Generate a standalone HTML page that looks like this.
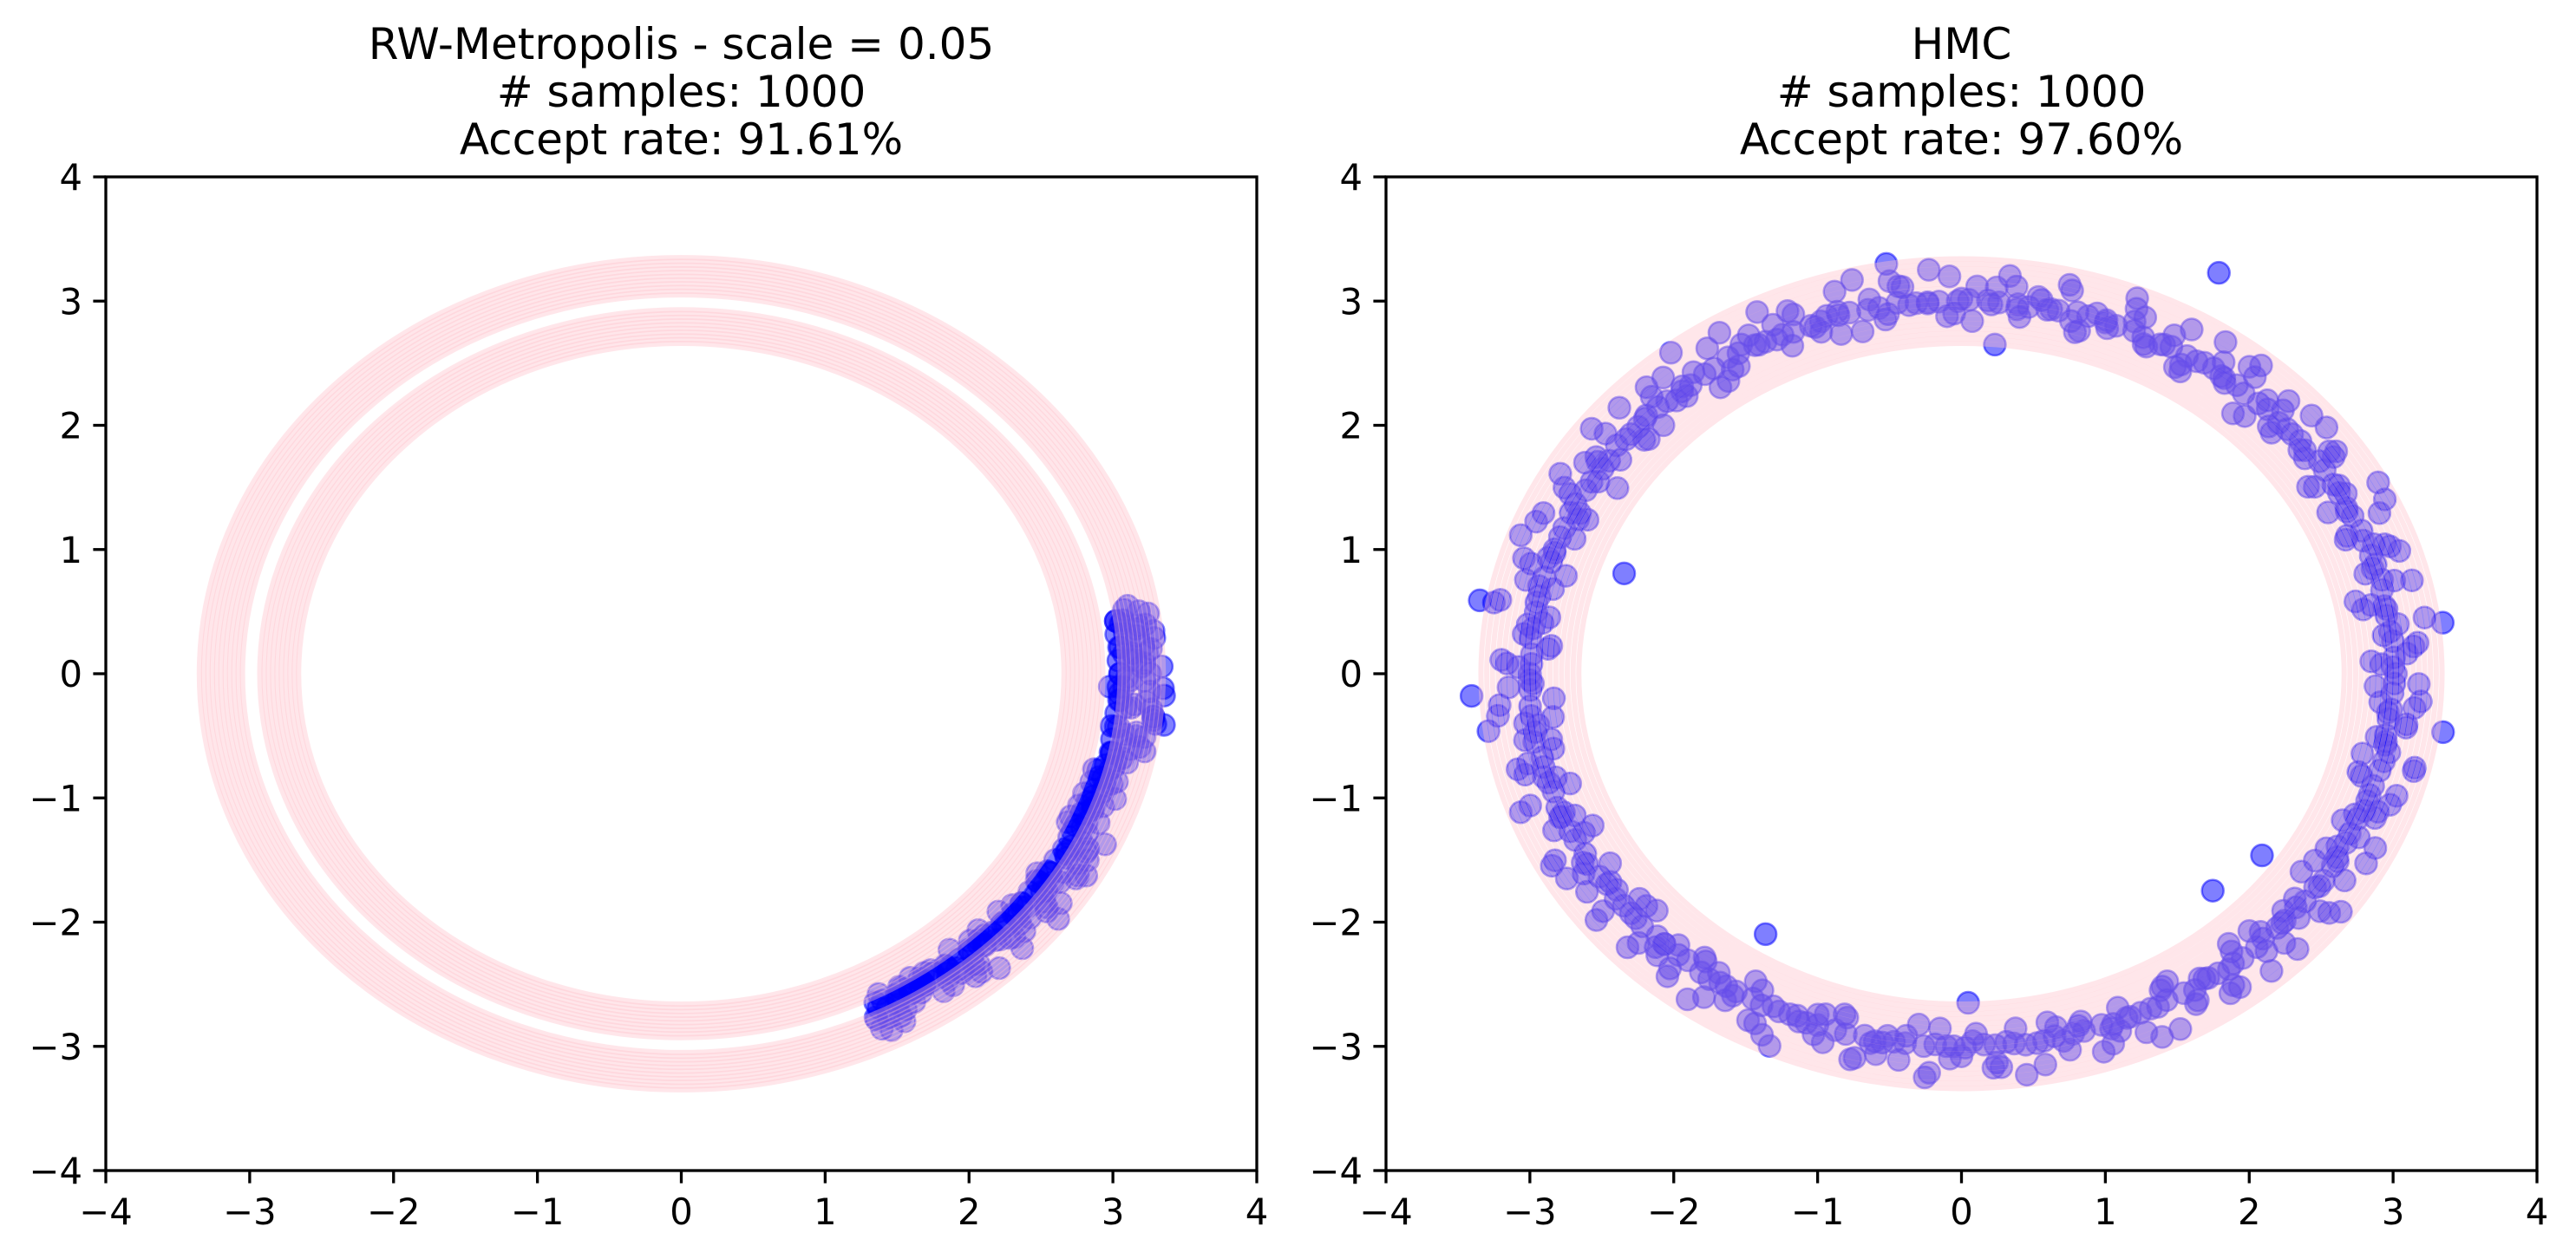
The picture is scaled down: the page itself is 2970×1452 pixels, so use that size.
<!DOCTYPE html>
<html><head><meta charset="utf-8"><style>
html,body{margin:0;padding:0;background:#fff;}
svg{display:block;font-family:"DejaVu Sans","Liberation Sans",sans-serif;}
</style></head><body>
<svg id="fig" width="2970" height="1452" viewBox="0 0 2970 1452" xmlns="http://www.w3.org/2000/svg">
<rect width="2970" height="1452" fill="#fff"/>
<g id="left"></g>
<g id="right"></g>
</svg>
<script>
// ---- data ----
const tickValues = [-4,-3,-2,-1,0,1,2,3,4];
const tickLabels = ["\u22124","\u22123","\u22122","\u22121","0","1","2","3","4"];
const leftTitle = ["RW-Metropolis - scale = 0.05","# samples: 1000","Accept rate: 91.61%"];
const rightTitle = ["HMC","# samples: 1000","Accept rate: 97.60%"];
// contour radii (data units)
const leftContourRadii = [2.66,2.69,2.72,2.75,2.78,2.81,2.84,2.87,2.90,2.93,3.05,3.08,3.11,3.14,3.17,3.20,3.23,3.26,3.29,3.32,3.35];
const rightContourRadii = [2.66,2.70,2.74,2.78,2.82,2.86,2.90,2.94,2.98,3.02,3.06,3.10,3.14,3.18,3.22,3.26,3.30,3.34];
// RW-Metropolis samples (angle in degrees, radius)
const rwAngle = [10,9,8.5,8,7,6.5,6,5,4,3.5,3,2,1,0,-1,-2,-3,-4,-5,-6,-7,-8,-9,-10,-11,-12,-13,-14,-15,-16,-17,-18,-19,-20,-21,-22,-23,-24,-25,-26,-27,-28,-29,-30,-31,-32,-33,-34,-35,-36,-37,-38,-39,-40,-41,-42,-43,-44,-45,-46,-47,-48,-49,-50,-51,-52,-53,-54,-55,-56,-57,-58,-59,-60,-61,-62,-63,-64,
 8,6,4,2,0,-2,-4,-6,-8,-10,-12,-14,-16,-18,-20,-22,-24,-26,-28,-30,-32,-34,-36,-38,-40,-42,-44,-46,-48,-50,-52,-54,-56,-58,-60,-62,
 5,1,-3,-7,-5,-9,-2,-15,-25,-35,-41,-47,-53,-57,-61,-63,-37,-43,-50,
 9.5,7.5,5.5,3,1.5,-0.5,-2.5,-4.5,-6.5,-8.5,-10.5,-12.5,-14.5,-16.5,-18.5,-20.5,-22.5,-24.5,-26.5,-28.5,-30.5,-32.5,-34.5,-36.5,-38.5,-40.5,-42.5,-44.5,-46.5,-48.5,-50.5,-52.5,-54.5,-56.5,-58.5,-60.5,-62.5,-64,
 8,4,0,-4,-8,-12,-16,-20,-24,-28,-32,-36,-40,-44,-48,-52,-56,-60,-63,
 7,3,-1,-6,-11,-19,-23,-27,-31,-33,-39,-45,-49,-51,-55,-59,-62,-64,
 6,2,-2,-5,-9,-13,-17,-21,-29,-34,-38,-42,-46,-52,-56,-58,-60];
const rwRadius = [3.15,3.22,3.28,3.10,3.25,3.18,3.30,3.12,3.22,3.27,3.08,3.16,3.20,3.26,3.12,3.35,3.05,3.24,3.14,3.30,3.38,3.02,3.20,3.12,3.28,3.06,3.18,3.10,3.00,3.15,2.98,3.08,3.03,3.12,2.96,3.02,3.06,2.94,3.00,3.10,3.05,3.20,3.15,3.25,3.10,3.02,3.08,2.98,3.06,3.12,3.18,3.00,2.96,3.05,3.16,3.02,3.12,3.08,2.98,3.04,2.94,3.00,3.10,3.18,3.05,2.98,3.08,2.95,3.02,2.96,3.06,3.00,2.94,3.12,3.20,3.05,2.97,3.18,
 3.05,3.04,3.05,3.04,3.05,3.04,3.05,3.04,3.05,3.04,3.05,3.04,3.02,3.02,3.01,3.00,3.00,3.00,3.01,3.00,3.00,2.99,2.99,3.00,3.01,3.00,3.00,2.98,2.99,3.00,2.99,2.98,2.99,3.00,2.99,2.98,
 3.30,3.34,3.36,3.32,3.28,3.26,2.98,2.97,3.25,3.22,2.92,3.24,3.14,2.92,3.15,3.22,3.28,3.24,2.90,
 3.12,3.08,3.18,3.14,3.22,3.10,3.26,3.16,3.30,3.20,3.24,3.14,3.08,3.12,3.18,3.06,3.14,3.10,3.16,3.04,3.20,3.12,3.08,3.16,3.02,3.10,3.14,3.06,3.00,3.12,3.08,3.04,3.14,3.02,3.10,3.06,3.12,3.08,
 3.05,3.06,3.05,3.06,3.07,3.06,3.05,3.04,3.05,3.04,3.03,3.04,3.03,3.02,3.03,3.02,3.02,3.01,3.02,
 3.20,3.24,3.22,3.30,3.18,2.96,2.94,3.16,3.20,2.95,3.12,2.92,3.18,3.10,2.94,2.96,2.92,3.10,
 3.10,3.12,3.08,3.10,3.12,3.10,3.08,3.06,3.06,3.04,3.05,3.04,3.03,3.02,3.02,3.03,3.02];
// HMC samples (angle in degrees, radius)
const hmcAngle = [0,2,4,6,8,10,12,14,16,18,20,22,24,26,28,30,32,34,36,38,40,42,44,46,48,50,52,54,56,58,60,62,64,66,68,70,72,74,76,78,80,82,84,86,88,90,92,94,96,98,100,102,104,106,108,110,112,114,116,118,120,122,124,126,128,130,132,134,136,138,140,142,144,146,148,150,152,154,156,158,160,162,164,166,168,170,172,174,176,178,180,182,184,186,188,190,192,194,196,198,200,202,204,206,208,210,212,214,216,218,220,222,224,226,228,230,232,234,236,238,240,242,244,246,248,250,252,254,256,258,260,262,264,266,268,270,272,274,276,278,280,282,284,286,288,290,292,294,296,298,300,302,304,306,308,310,312,314,316,318,320,322,324,326,328,330,332,334,336,338,340,342,344,346,348,350,352,354,356,358,
 1,5,9,13,17,21,25,29,33,37,41,45,49,53,57,61,65,69,73,77,81,85,89,93,97,101,105,109,113,117,121,125,129,133,137,141,145,149,153,157,161,165,169,173,177,181,185,189,193,197,201,205,209,213,217,221,225,229,233,237,241,245,249,253,257,261,265,269,273,277,281,285,289,293,297,301,305,309,313,317,321,325,329,333,337,341,345,349,353,357,
 3,11,19,27,35,43,51,59,67,75,83,91,99,107,115,123,131,139,147,155,163,171,179,187,195,203,211,219,227,235,243,251,259,267,275,283,291,299,307,315,323,331,339,347,355,
 237,315,325,161,170,183,61,99,271,85,7,352,188,
 1.5,4.5,7.5,10.5,13.5,16.5,19.5,22.5,25.5,28.5,31.5,34.5,37.5,40.5,43.5,46.5,49.5,52.5,55.5,58.5,61.5,64.5,67.5,70.5,73.5,76.5,79.5,82.5,85.5,88.5,91.5,94.5,97.5,100.5,103.5,106.5,109.5,112.5,115.5,118.5,121.5,124.5,127.5,130.5,133.5,136.5,139.5,142.5,145.5,148.5,151.5,154.5,157.5,160.5,163.5,166.5,169.5,172.5,175.5,178.5,181.5,184.5,187.5,190.5,193.5,196.5,199.5,202.5,205.5,208.5,211.5,214.5,217.5,220.5,223.5,226.5,229.5,232.5,235.5,238.5,241.5,244.5,247.5,250.5,253.5,256.5,259.5,262.5,265.5,268.5,271.5,274.5,277.5,280.5,283.5,286.5,289.5,292.5,295.5,298.5,301.5,304.5,307.5,310.5,313.5,316.5,319.5,322.5,325.5,328.5,331.5,334.5,337.5,340.5,343.5,346.5,349.5,352.5,355.5,358.5,
 2.5,6.5,10.5,14.5,18.5,22.5,26.5,30.5,34.5,38.5,42.5,46.5,50.5,54.5,58.5,62.5,66.5,70.5,74.5,78.5,82.5,86.5,90.5,94.5,98.5,102.5,106.5,110.5,114.5,118.5,122.5,126.5,130.5,134.5,138.5,142.5,146.5,150.5,154.5,158.5,162.5,166.5,170.5,174.5,178.5,182.5,186.5,190.5,194.5,198.5,202.5,206.5,210.5,214.5,218.5,222.5,226.5,230.5,234.5,238.5,242.5,246.5,250.5,254.5,258.5,262.5,266.5,270.5,274.5,278.5,282.5,286.5,290.5,294.5,298.5,302.5,306.5,310.5,314.5,318.5,322.5,326.5,330.5,334.5,338.5,342.5,346.5,350.5,354.5,358.5];
const hmcRadius = [3.02,2.85,3.15,2.95,3.25,3.00,2.80,3.10,2.92,3.20,3.05,2.88,3.18,2.98,3.28,3.03,2.84,3.12,2.95,3.22,3.00,2.90,3.16,3.06,2.82,3.24,2.97,3.10,3.02,2.87,3.20,3.00,2.93,3.14,3.26,2.96,3.05,2.86,3.18,3.00,3.08,2.90,3.22,2.98,3.12,3.02,2.88,3.26,3.00,3.15,2.94,3.08,2.84,3.20,3.03,2.97,3.12,2.89,3.24,3.00,3.06,2.92,3.16,2.85,3.28,3.02,2.96,3.10,2.88,3.20,3.00,3.14,2.93,3.05,2.82,3.22,3.08,2.95,3.18,2.90,3.26,3.02,2.86,3.12,3.00,3.30,2.94,3.06,2.88,3.20,3.00,3.15,2.84,3.24,2.97,3.08,2.90,3.18,3.02,2.86,3.26,2.98,3.10,2.92,3.20,3.04,2.88,3.14,2.96,3.22,3.00,2.85,3.12,3.06,2.94,3.18,2.90,3.24,3.00,3.10,2.86,3.16,2.98,3.28,3.02,2.92,3.12,2.88,3.20,3.04,2.96,3.14,2.84,3.22,3.00,3.08,2.90,3.18,2.98,3.26,3.02,2.87,3.12,2.95,3.20,3.04,2.90,3.16,3.00,3.24,2.86,3.10,2.96,3.18,3.02,2.92,3.22,2.88,3.12,3.00,3.06,2.94,3.26,2.85,3.14,3.02,2.96,3.20,2.90,3.10,3.00,3.18,2.87,3.24,3.04,2.93,3.12,2.98,3.20,2.88,
 3.00,3.01,2.99,3.00,3.01,2.99,3.00,3.00,3.01,2.99,3.00,3.01,2.99,3.00,3.00,3.01,2.99,3.00,3.01,3.00,2.99,3.00,3.01,3.00,2.99,3.00,3.01,3.00,2.99,3.00,3.01,3.00,2.99,3.00,3.01,3.00,2.99,3.00,3.01,3.00,2.99,3.00,3.01,3.00,2.99,3.00,3.01,3.00,2.99,3.00,3.01,3.00,2.99,3.00,3.01,3.00,2.99,3.00,3.01,3.00,2.99,3.00,3.01,3.00,2.99,3.00,3.01,3.00,2.99,3.00,3.01,3.00,2.99,3.00,3.01,3.00,2.99,3.00,3.01,3.00,2.99,3.00,3.01,3.00,2.99,3.00,3.01,3.00,2.99,3.00,
 3.10,2.90,3.15,2.86,3.12,2.92,3.18,2.88,3.08,2.94,3.14,2.90,3.20,2.86,3.10,2.92,3.16,2.88,3.12,2.94,3.18,2.90,3.08,2.86,3.14,2.92,3.20,2.88,3.10,2.94,3.16,2.90,3.12,2.86,3.18,2.92,3.08,2.88,3.14,2.94,3.20,2.90,3.10,2.86,3.16,
 2.50,2.47,2.55,2.48,3.40,3.41,3.69,3.34,2.65,2.66,3.37,3.38,3.32,
 2.92,3.18,3.06,2.84,3.22,2.98,3.12,2.90,3.26,3.04,2.88,3.16,2.96,3.20,3.08,2.86,3.14,3.00,3.24,2.92,3.10,2.94,3.18,3.02,2.88,3.22,3.06,2.96,3.12,2.84,3.20,3.00,3.14,2.90,3.26,3.04,2.92,3.16,2.98,3.10,3.22,2.86,3.06,2.94,3.18,3.02,2.90,3.24,3.08,2.96,3.14,2.88,3.20,3.00,3.12,2.92,3.26,3.04,2.86,3.16,2.98,3.22,3.06,2.90,3.10,2.94,3.18,3.02,2.84,3.24,3.08,2.96,3.14,2.88,3.20,3.00,3.12,2.92,3.16,3.04,2.90,3.22,2.98,3.08,2.86,3.18,3.02,2.94,3.26,3.10,2.96,3.14,2.88,3.20,3.04,2.92,3.16,3.00,3.24,2.90,3.12,2.98,3.18,2.86,3.08,3.22,2.94,3.14,3.02,2.88,3.20,3.06,2.96,3.16,2.90,3.24,3.00,3.12,2.92,3.18,
 3.01,3.00,2.99,3.02,3.00,3.01,2.99,3.00,3.02,3.01,2.99,3.00,3.01,3.02,3.00,2.99,3.01,3.00,3.02,2.99,3.00,3.01,3.00,2.99,3.02,3.00,3.01,2.99,3.00,3.01,3.02,3.00,2.99,3.01,3.00,3.02,2.99,3.00,3.01,3.00,2.99,3.02,3.00,3.01,2.99,3.00,3.01,3.02,3.00,2.99,3.01,3.00,3.02,2.99,3.00,3.01,3.00,2.99,3.02,3.00,3.01,2.99,3.00,3.01,3.02,3.00,2.99,3.01,3.00,3.02,2.99,3.00,3.01,3.00,2.99,3.02,3.00,3.01,2.99,3.00,3.01,3.02,3.00,2.99,3.01,3.00,3.02,2.99,3.00,3.01];

const NS = "http://www.w3.org/2000/svg";
function mk(tag, attrs, parent){const e=document.createElementNS(NS,tag);for(const k in attrs)e.setAttribute(k,attrs[k]);parent.appendChild(e);return e;}

function drawPanel(g, x0, x1, y0, y1, title, angles, radii, contours, prefix){
  const sx = v => x0 + (v + 4) / 8 * (x1 - x0);
  const sy = v => y1 - (v + 4) / 8 * (y1 - y0);
  const ppuX = (x1 - x0) / 8, ppuY = (y1 - y0) / 8;
  const n = Math.min(angles.length, radii.length);
  const pts = mk('g', {}, g);
  
  
  for (let i = 0; i < n; i++) {
    const a = angles[i] * Math.PI / 180;
    const c = mk('circle', {cx: sx(radii[i] * Math.cos(a)), cy: sy(radii[i] * Math.sin(a)), r: 12.5, fill: 'rgba(0,0,255,0.5)', stroke: 'rgba(0,0,255,0.5)', 'stroke-width': 2.5}, pts);
    
    
  }
  const cg = mk('g', {}, g);
  
  
  for (const r of contours) {
    const e = mk('ellipse', {cx: sx(0), cy: sy(0), rx: r * ppuX, ry: r * ppuY, fill: 'none', stroke: 'rgb(255,192,203)', 'stroke-opacity': 0.4, 'stroke-width': 6}, cg);
    
    
  }
  const fr = mk('rect', {x: x0, y: y0, width: x1 - x0, height: y1 - y0, fill: 'none', stroke: '#000', 'stroke-width': 3.3}, g);
  
  
  for (let i = 0; i < tickValues.length; i++) {
    const tx = sx(tickValues[i]), ty = sy(tickValues[i]);
    mk('line', {x1: tx, y1: y1, x2: tx, y2: y1 + 14.6, stroke: '#000', 'stroke-width': 3.3}, g);
    const xl = mk('text', {x: tx, y: 1412, 'text-anchor': 'middle', 'font-size': 41.7, fill: '#000'}, g);
    xl.textContent = tickLabels[i];
    
    
    mk('line', {x1: x0, y1: ty, x2: x0 - 14.6, y2: ty, stroke: '#000', 'stroke-width': 3.3}, g);
    const yl = mk('text', {x: x0 - 27, y: ty + 15, 'text-anchor': 'end', 'font-size': 41.7, fill: '#000'}, g);
    yl.textContent = tickLabels[i];
    
    
  }
  const base = [68, 123, 178];
  for (let i = 0; i < title.length; i++) {
    const t = mk('text', {x: (x0 + x1) / 2, y: base[i], 'text-anchor': 'middle', 'font-size': 50, fill: '#000'}, g);
    t.textContent = title[i];
    
    
  }
}
drawPanel(document.getElementById('left'), 122, 1449, 204, 1350, leftTitle, rwAngle, rwRadius, leftContourRadii, 'rw');
drawPanel(document.getElementById('right'), 1598, 2925, 204, 1350, rightTitle, hmcAngle, hmcRadius, rightContourRadii, 'hmc');
</script>
</body></html>
